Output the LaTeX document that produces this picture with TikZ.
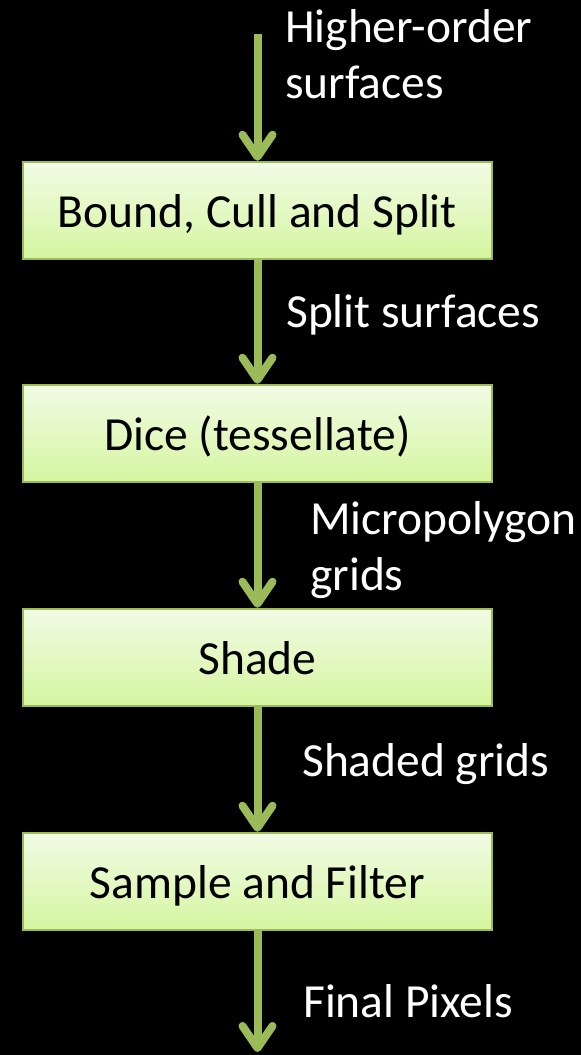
\documentclass[tikz,border=0pt]{standalone}
\usepackage{fontspec}
\setmainfont{Carlito}
\usetikzlibrary{arrows.meta}
\definecolor{olive}{RGB}{155,187,89}
\definecolor{boxtop}{RGB}{241,252,230}
\definecolor{boxbot}{RGB}{214,245,160}
\begin{document}
\begin{tikzpicture}[x=1pt,y=-1pt,
  stage/.style={draw=olive, line width=2.5pt, top color=boxtop, bottom color=boxbot,
    minimum width=469pt, minimum height=97pt, inner sep=0pt,
    text height=33pt, text depth=0pt, font=\fontsize{47.5}{56}\selectfont},
  flow/.style={draw=olive, line width=8pt,
    -{Straight Barb[length=22pt, width=30pt, line cap=round, line join=round]}},
  lbl/.style={anchor=base west, inner sep=0pt, text=white,
    font=\fontsize{47.5}{56}\selectfont, align=left}]
  % canvas
  \fill[black] (0,0) rectangle (581,1055);
  \useasboundingbox (0,0) rectangle (581,1055);

  % pipeline stages
  \node[stage] (bound) at (257.5,210.5) {Bound, Cull and Split};
  \node[stage] (dice)  at (257.5,433.5) {Dice (tessellate)};
  \node[stage] (shade) at (257.5,657.5) {Shade};
  \node[stage] (samp)  at (257.5,881.5) {Sample and Filter};

  \coordinate (in)  at (257.5,34);
  \coordinate (out) at (257.5,1052);

  % connectors
  \draw[flow] (in) -- (bound.north);
  \draw[flow] (bound.south) -- (dice.north);
  \draw[flow] (dice.south) -- (shade.north);
  \draw[flow] (shade.south) -- (samp.north);
  \draw[flow] (samp.south) -- (out);

  % data labels (base anchor sits on the last line)
  \node[lbl] (l1) at (285,98) {Higher-order\\surfaces};
  \node[lbl] (l2) at (286,327) {Split surfaces};
  \node[lbl] (l3) at (310,590) {Micropolygon\\grids};
  \node[lbl] (l4) at (302,776) {Shaded grids};
  \node[lbl] (l5) at (303,1017) {Final Pixels};
\end{tikzpicture}
\end{document}
